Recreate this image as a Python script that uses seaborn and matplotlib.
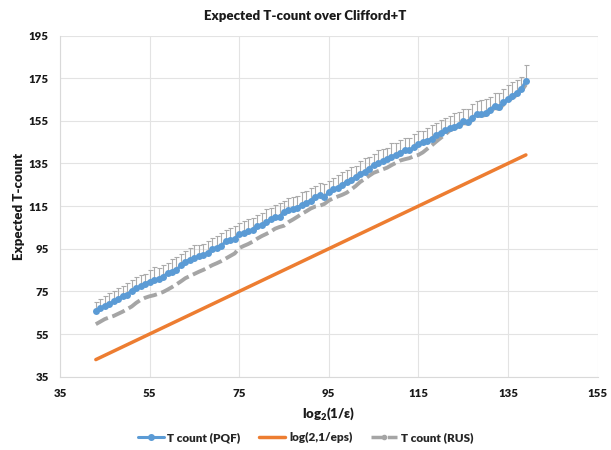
import numpy as np
import pandas as pd
import matplotlib
matplotlib.use("Agg")
import matplotlib.pyplot as plt
import seaborn as sns
from matplotlib.lines import Line2D

# log2(1/eps), une valeur par unité
x_vals = list(range(43, 140))

# T count (PQF)
pqf = [66.0, 67.0, 68.2, 69.1, 70.3, 71.4, 72.9, 73.5, 75.4, 76.5,
       77.3, 78.5, 79.6, 80.4, 80.9, 81.9, 83.5, 84.3, 85.1, 87.2,
       89.0, 89.8, 90.6, 91.5, 92.1, 92.8, 95.0, 95.5, 96.3, 98.5,
       99.2, 99.6, 101.9, 102.4, 103.1, 104.0, 105.9, 106.0, 107.4, 108.8,
       109.7, 110.1, 112.2, 113.0, 113.5, 114.2, 115.6, 116.6, 117.5, 119.5,
       120.0, 119.2, 121.5, 123.1, 123.7, 125.0, 126.5, 127.3, 128.6, 130.2,
       131.0, 132.6, 134.3, 135.0, 136.0, 137.0, 138.2, 138.9, 140.0, 141.4,
       141.1, 142.5, 144.2, 145.0, 145.7, 146.7, 148.3, 149.4, 150.5, 151.5,
       152.2, 153.2, 155.0, 154.5, 156.3, 158.2, 158.3, 158.6, 160.3, 162.0,
       161.4, 163.6, 165.3, 166.8, 168.2, 170.0, 173.6]

# barres d'erreur (vers le haut seulement)
pqf_err = [4.2, 4.6, 4.4, 5.0, 4.8, 5.3, 4.7, 5.5, 4.9, 5.2,
           5.6, 4.8, 5.4, 5.9, 5.1, 5.6, 4.9, 5.7, 6.0, 5.2,
           4.8, 5.5, 6.1, 5.3, 5.0, 5.8, 4.9, 5.6, 6.2, 5.1,
           5.7, 6.3, 5.0, 5.5, 6.0, 5.4, 4.9, 5.8, 6.1, 5.3,
           5.9, 6.4, 5.2, 5.6, 6.0, 5.5, 5.9, 5.3, 6.2, 5.0,
           5.7, 6.3, 5.4, 5.1, 5.9, 6.2, 5.5, 6.0, 5.3, 5.8,
           6.4, 5.6, 5.2, 6.1, 5.7, 5.4, 6.3, 5.9, 6.2, 5.5,
           6.0, 6.5, 5.8, 5.3, 6.1, 6.4, 5.7, 6.2, 5.9, 5.6,
           6.3, 5.8, 5.4, 6.0, 6.5, 5.9, 6.3, 6.6, 5.7, 6.1,
           6.8, 6.2, 6.4, 6.6, 5.9, 5.6, 7.6]

# log(2,1/eps)
log_eps = list(range(43, 140))

# T count (RUS)
rus = [59.6, 60.8, 62.0, 62.8, 63.5, 64.5, 65.5, 66.7, 67.9, 69.6,
       71.0, 72.0, 72.7, 73.2, 73.9, 74.7, 75.8, 77.0, 78.3, 79.7,
       81.2, 82.2, 83.2, 84.2, 85.1, 86.2, 87.3, 88.2, 89.2, 90.4,
       91.6, 92.8, 95.3, 96.3, 97.2, 98.3, 99.7, 100.9, 101.9, 103.0,
       104.4, 105.2, 105.8, 107.5, 108.7, 110.0, 111.4, 112.6, 113.9, 114.8,
       115.2, 116.0, 117.6, 118.7, 119.5, 120.3, 121.3, 122.8, 124.4, 126.3,
       127.7, 129.2, 130.6, 131.4, 132.2, 133.0, 134.2, 135.3, 136.4, 137.0,
       137.5, 138.4, 139.0, 140.2, 141.9, 143.5, 145.3, 147.0, 148.6, 150.5,
       151.4, 152.4, 153.9, 153.7, 155.3, 157.2, 157.4, 157.7, 159.3, 161.0,
       160.6, 162.6, 164.3, 165.8, 167.2, 168.9, 172.0]

labels = ['T count (PQF)', 'log(2,1/eps)', 'T count (RUS)']
colors = ['#5B9BD5', '#ED7D31', '#A5A5A5']

df = pd.DataFrame({'x': x_vals, 'pqf': pqf, 'log': log_eps, 'rus': rus})

sns.set_style('white')
plt.rcParams['font.family'] = ['Lato', 'DejaVu Sans']
plt.rcParams['font.weight'] = 'bold'
plt.rcParams['mathtext.default'] = 'regular'

fig = plt.figure(figsize=(6.11, 4.5), dpi=100)
ax = fig.add_axes([0.0982, 0.163, 0.8798, 0.758])

dash = (0, (3.5, 1.2))
sns.lineplot(data=df, x='x', y='log', ax=ax, color=colors[1], linewidth=2.5, zorder=2)
sns.lineplot(data=df, x='x', y='rus', ax=ax, color=colors[2], linewidth=2.8,
             linestyle=dash, zorder=3)
ax.errorbar(df['x'], df['pqf'], yerr=[np.zeros(len(pqf_err)), pqf_err], fmt='none',
            ecolor='#ABABAB', elinewidth=0.8, capsize=1.8, capthick=0.8, zorder=4)
sns.lineplot(data=df, x='x', y='pqf', ax=ax, color=colors[0], linewidth=2.2,
             marker='o', markersize=5, markeredgewidth=0, zorder=5)

ax.set_xlim(35, 155)
ax.set_ylim(35, 195)
ax.set_xticks(range(35, 156, 20))
ax.set_yticks(range(35, 196, 20))
ax.grid(True, color='#E3E3E3', linewidth=0.8)
ax.set_axisbelow(True)
for s in ['top', 'right']:
    ax.spines[s].set_visible(False)
for s in ['left', 'bottom']:
    ax.spines[s].set_color('#D9D9D9')
    ax.spines[s].set_linewidth(0.8)
ax.tick_params(length=0, labelsize=8.2, labelcolor='#1a1a1a', pad=8)
for lab in ax.get_xticklabels() + ax.get_yticklabels():
    lab.set_fontweight('heavy')

ax.set_xlabel('log$_2$(1/ε)', fontsize=9.5, fontweight='heavy', color='#1a1a1a', labelpad=5)
ax.set_ylabel('Expected T-count', fontsize=9.5, fontweight='heavy', color='#1a1a1a', labelpad=3)
fig.suptitle('Expected T-count over Clifford+T', x=0.5, y=0.977, fontsize=9.5,
             fontweight='heavy', color='#1a1a1a')

handles = [
    Line2D([], [], color=colors[0], lw=2.2, marker='o', markersize=4),
    Line2D([], [], color=colors[1], lw=2.5),
    Line2D([], [], color=colors[2], lw=2.5, linestyle=dash, marker='o', markersize=3),
]
fig.legend(handles, labels, loc='center', bbox_to_anchor=(0.5, 0.028), ncol=3,
           frameon=False, handlelength=2.2, handletextpad=0.3,
           columnspacing=1.6, prop={'weight': 'heavy', 'size': 8.5})

fig.savefig('out.png', dpi=100)
